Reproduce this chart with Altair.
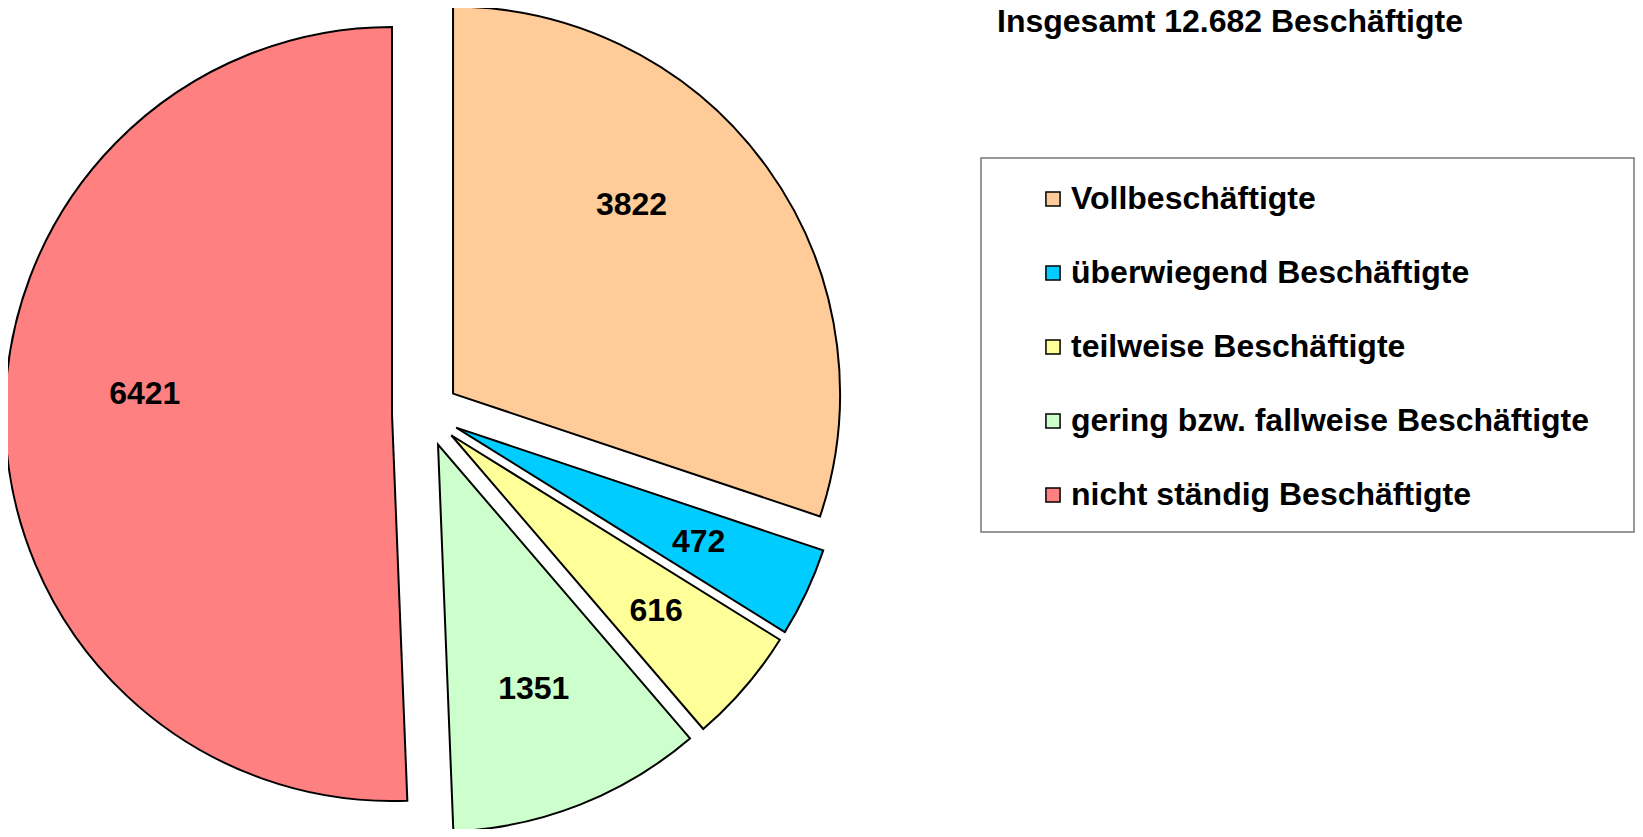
import altair as alt
import pandas as pd

# ---- data ----
categories = [
    "Vollbeschäftigte",
    "überwiegend Beschäftigte",
    "teilweise Beschäftigte",
    "gering bzw. fallweise Beschäftigte",
    "nicht ständig Beschäftigte",
]
values = [3822, 472, 616, 1351, 6421]
colors = ["#FFCC99", "#00CCFF", "#FFFF99", "#CCFFCC", "#FF8080"]
title_text = "Insgesamt 12.682 Beschäftigte"

df = pd.DataFrame({"cat": categories, "value": values, "order": list(range(len(values)))})

# ---- layout / style ----
W, H = 1630, 823
CX, CY = 420.7, 407.3      # pie centre (plot px)
R = 387                    # pie radius
EXPLODE = 33.7             # radial offset of each slice
FONT = "Liberation Sans"
FS = 32
# label placement (distance from slice apex, angle nudge in rad) by slice order
LABEL_R_EXPR = "[260, 268, 270, 262, 248][datum.order]"
LABEL_NUDGE_EXPR = "[-0.19, 0, 0, 0, 0.1][datum.order]"

base = alt.Chart(df).transform_joinaggregate(
    total="sum(value)"
).transform_window(
    cum="sum(value)", sort=[alt.SortField("order")], frame=[None, 0]
).transform_calculate(
    t_end="2*PI*datum.cum/datum.total",
    t_start="2*PI*(datum.cum-datum.value)/datum.total",
).transform_calculate(
    mid="(datum.t_start+datum.t_end)/2",
).transform_calculate(
    cx=f"{CX}+{EXPLODE}*sin(datum.mid)",
    cy=f"{CY}-{EXPLODE}*cos(datum.mid)",
    lmid=f"datum.mid + {LABEL_NUDGE_EXPR}",
    lr=LABEL_R_EXPR,
).transform_calculate(
    lx="datum.cx+datum.lr*sin(datum.lmid)",
    ly="datum.cy-datum.lr*cos(datum.lmid)",
)

pie = base.mark_arc(outerRadius=R, stroke="black", strokeWidth=2, strokeJoin="miter").encode(
    theta=alt.Theta("t_start:Q", scale=None),
    theta2="t_end:Q",
    x=alt.X("cx:Q", scale=None, axis=None),
    y=alt.Y("cy:Q", scale=None, axis=None),
    color=alt.Color(
        "cat:N",
        scale=alt.Scale(domain=categories, range=colors),
        sort=categories,
        legend=alt.Legend(
            title=None,
            orient="none",
            legendX=1032,
            legendY=177,
            symbolType="square",
            symbolSize=200,
            symbolStrokeColor="black",
            symbolStrokeWidth=1.5,
            symbolOpacity=1,
            labelFont=FONT,
            labelFontSize=FS,
            labelFontWeight="bold",
            labelColor="black",
            labelOffset=2,
            labelLimit=700,
            rowPadding=42,
            padding=0,
        ),
    ),
)

labels = base.mark_text(font=FONT, fontSize=FS, fontWeight="bold", color="black",
                        align="center", baseline="middle").encode(
    x=alt.X("lx:Q", scale=None),
    y=alt.Y("ly:Q", scale=None),
    text=alt.Text("value:Q", format="d"),
)

frame = alt.Chart(pd.DataFrame({"k": [0]})).mark_rect(
    fill="white", stroke="#777777", strokeWidth=1.5
).encode(
    x=alt.value(976), x2=alt.value(1629), y=alt.value(152), y2=alt.value(526)
)

title = alt.Chart(pd.DataFrame({"t": [title_text]})).mark_text(
    font=FONT, fontSize=FS, fontWeight="bold", color="black", align="left", baseline="alphabetic"
).encode(x=alt.value(992), y=alt.value(26), text="t:N")

chart = alt.layer(frame, pie, labels, title).properties(
    width=W, height=H,
    padding={"left": -3, "top": -2, "right": 0, "bottom": 0},
    autosize=alt.AutoSizeParams(type="none"),
).configure_view(stroke=None).configure(background="white")

chart.save("out.html", embed_options={"renderer": "svg", "actions": False})
